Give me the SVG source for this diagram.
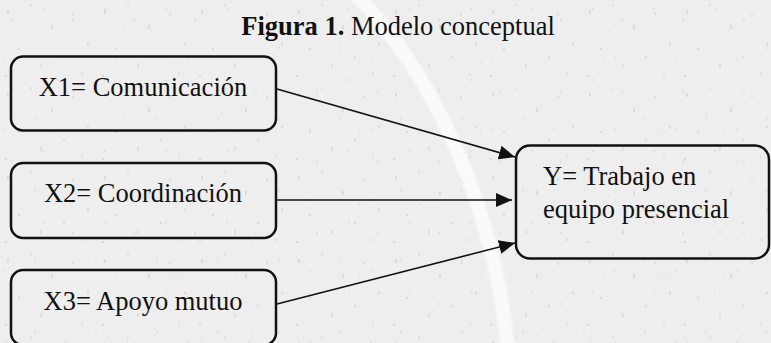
<svg xmlns="http://www.w3.org/2000/svg" width="771" height="343" viewBox="0 0 771 343">
  <defs>
    <style>
      .box { fill: none; stroke: #111; stroke-width: 2.5; }
      .lbl { font-family: "Liberation Serif", "Times New Roman", serif; font-size: 26.5px; fill: #111; }
      .edge { stroke: #111; stroke-width: 1.6; fill: none; marker-end: url(#head); }
      .speck { fill: #b3b1b1; }
    </style>
    <marker id="head" markerUnits="userSpaceOnUse" markerWidth="17" markerHeight="15" refX="16" refY="7" orient="auto">
      <path d="M0,0 L16,7 L0,14 z" fill="#111"/>
    </marker>
    <!-- scattered grain on the paper background -->
    <pattern id="grain" patternUnits="userSpaceOnUse" width="97" height="83">
      <ellipse class="speck" cx="8" cy="12" rx="0.7" ry="2.2" opacity="0.5"/>
      <ellipse class="speck" cx="31" cy="5" rx="0.6" ry="1.6" opacity="0.45"/>
      <ellipse class="speck" cx="52" cy="27" rx="0.8" ry="2.8" opacity="0.4"/>
      <ellipse class="speck" cx="73" cy="14" rx="0.6" ry="1.4" opacity="0.5"/>
      <ellipse class="speck" cx="88" cy="44" rx="0.7" ry="2" opacity="0.45"/>
      <ellipse class="speck" cx="19" cy="49" rx="0.9" ry="1.2" opacity="0.4"/>
      <ellipse class="speck" cx="41" cy="66" rx="0.6" ry="2.4" opacity="0.45"/>
      <ellipse class="speck" cx="64" cy="57" rx="0.7" ry="1.5" opacity="0.5"/>
      <ellipse class="speck" cx="82" cy="74" rx="0.6" ry="1.8" opacity="0.4"/>
      <ellipse class="speck" cx="6" cy="76" rx="0.8" ry="1.3" opacity="0.45"/>
      <ellipse class="speck" cx="58" cy="80" rx="0.5" ry="1" opacity="0.4"/>
      <ellipse class="speck" cx="27" cy="31" rx="0.5" ry="1.1" opacity="0.4"/>
    </pattern>
    <pattern id="grain2" patternUnits="userSpaceOnUse" width="61" height="71">
      <ellipse class="speck" cx="12" cy="20" rx="0.6" ry="1.7" opacity="0.35"/>
      <ellipse class="speck" cx="44" cy="9" rx="0.7" ry="1.2" opacity="0.35"/>
      <ellipse class="speck" cx="35" cy="48" rx="0.6" ry="2.1" opacity="0.3"/>
      <ellipse class="speck" cx="54" cy="62" rx="0.5" ry="1.3" opacity="0.35"/>
      <ellipse class="speck" cx="5" cy="58" rx="0.6" ry="1.5" opacity="0.3"/>
    </pattern>
    <filter id="soft" x="-10%" y="-10%" width="120%" height="120%">
      <feGaussianBlur stdDeviation="1"/>
    </filter>
  </defs>

  <!-- background -->
  <rect width="771" height="343" fill="#efeeee"/>
  <rect width="771" height="343" fill="url(#grain)"/>
  <rect width="771" height="343" fill="url(#grain2)"/>
  <!-- pale curved band -->
  <path d="M356,-5 C420,60 490,180 508,348" fill="none" stroke="#fafafa" stroke-width="14" filter="url(#soft)"/>

  <!-- title -->
  <text class="lbl" font-family="'Liberation Serif', 'Times New Roman', serif" x="398" y="35" text-anchor="middle"><tspan font-weight="bold">Figura 1.</tspan> Modelo conceptual</text>

  <!-- connectors -->
  <g id="edges">
    <line class="edge" x1="277" y1="89" x2="515" y2="157"/>
    <line class="edge" x1="277" y1="200" x2="512" y2="200"/>
    <line class="edge" x1="277" y1="304" x2="515" y2="243"/>
  </g>

  <g id="x1">
    <rect class="box" x="11" y="56.5" width="265" height="74" rx="12"/>
    <text class="lbl" font-family="'Liberation Serif', 'Times New Roman', serif" x="143" y="96" text-anchor="middle">X1= Comunicación</text>
  </g>
  <g id="x2">
    <rect class="box" x="11" y="163" width="265" height="75" rx="12"/>
    <text class="lbl" font-family="'Liberation Serif', 'Times New Roman', serif" x="143" y="202" text-anchor="middle">X2= Coordinación</text>
  </g>
  <g id="x3">
    <rect class="box" x="11" y="270" width="265" height="75" rx="12"/>
    <text class="lbl" font-family="'Liberation Serif', 'Times New Roman', serif" x="143" y="310" text-anchor="middle">X3= Apoyo mutuo</text>
  </g>
  <g id="y">
    <rect class="box" x="516" y="145.5" width="253" height="113" rx="14"/>
    <text class="lbl" font-family="'Liberation Serif', 'Times New Roman', serif" x="543" y="185">Y= Trabajo en</text>
    <text class="lbl" font-family="'Liberation Serif', 'Times New Roman', serif" x="543" y="218">equipo presencial</text>
  </g>
</svg>
